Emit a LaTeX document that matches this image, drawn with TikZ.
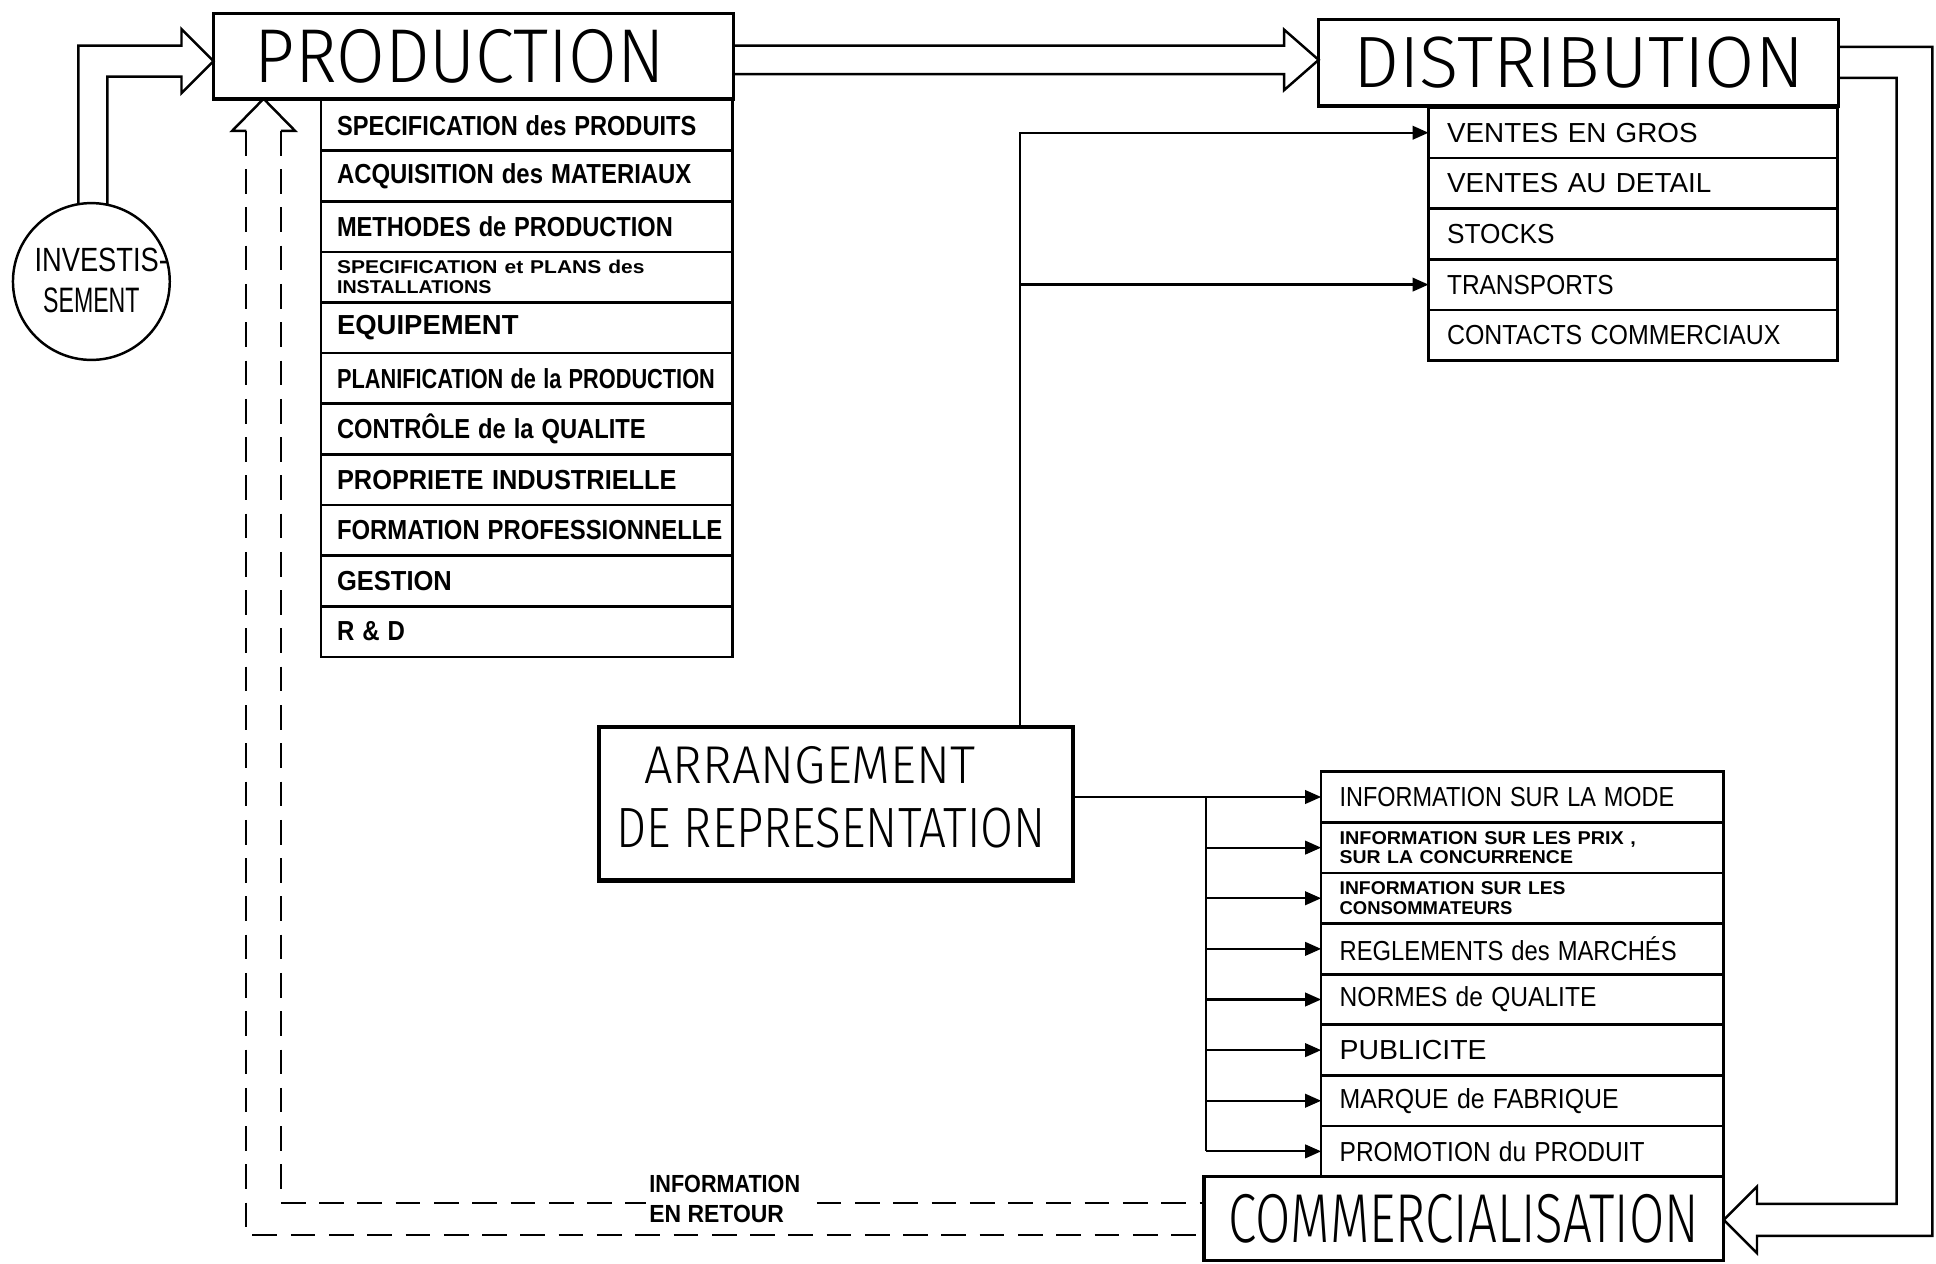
\documentclass[tikz,border=0pt]{standalone}
\usepackage{graphicx}
\usepackage{fontspec}
\setmainfont{Liberation Sans}
\newfontfamily\lightfont{Fira Sans Light}
\usetikzlibrary{arrows.meta,calc}
\newcommand\fw[2]{\resizebox{#1pt}{\height}{#2}}
\begin{document}
\begin{tikzpicture}[x=1pt,y=-1pt,
  every node/.style={inner sep=0pt, outer sep=0pt},
  titlebox/.style={draw, line width=2.8pt, rectangle, anchor=north west, font=\lightfont},
  rowbox/.style={draw, line width=2.2pt, rectangle, anchor=north west, align=left},
  prow/.style={rowbox, inner xsep=13pt, minimum width=333, minimum height=41, text width=307},
  drow/.style={rowbox, inner xsep=15pt, minimum width=331, minimum height=41, text width=301},
  crow/.style={rowbox, inner xsep=15pt, minimum width=326, minimum height=41, text width=296},
  big/.style={font=\fontsize{22.3}{24}\selectfont},
  bigb/.style={font=\bfseries\fontsize{22.3}{24}\selectfont},
  small/.style={font=\bfseries\fontsize{15}{16}\selectfont},
  conn/.style={line width=1.8pt},
  conarr/.style={conn, -{Triangle[length=13pt,width=11pt]}},
  hollow/.style={line width=2pt, line join=miter},
  fb/.style={line width=1.8pt, dash pattern=on 20pt off 11pt},
]
\fill[white] (0,0) rectangle (1568,1023);
\useasboundingbox (0,0) rectangle (1568,1023);

% ---------- main boxes ----------
\node[titlebox, minimum width=421, minimum height=69] (prod) at (173,11)
  {\resizebox{332pt}{43pt}{PRODUCTION}\hspace*{22pt}};
\node[titlebox, minimum width=421, minimum height=70] (dist) at (1068,16)
  {\resizebox{365pt}{41pt}{DISTRIBUTION}};
\node[titlebox, minimum width=421, minimum height=68] (comm) at (975,953)
  {\resizebox{381pt}{39pt}{COMMERCIALISATION}};
\node[draw, line width=3.5pt, rectangle, anchor=north west, minimum width=384, minimum height=124] (arrg) at (485,589) {};
\node[align=left, font=\lightfont\fontsize{10}{52}\selectfont] (arrgtxt) at (673,646)
  {\hspace*{23pt}\resizebox{268pt}{30pt}{ARRANGEMENT}\\ \resizebox{348pt}{32pt}{DE REPRESENTATION}};
\node[draw, circle, line width=2pt, minimum size=127] (inv) at (74,228) {};
\node[align=center, font=\fontsize{10}{33}\selectfont] (invtxt) at (74,227)
  {\hspace*{16pt}\resizebox{108pt}{19pt}{INVESTIS-}\\ \resizebox{78pt}{20pt}{SEMENT}};

% ---------- production list ----------
\node[prow, bigb] (p1) at (260,81) {\fw{291}{SPECIFICATION des PRODUITS}};
\node[prow, bigb] (p2) at (260,122) {\fw{287}{ACQUISITION des MATERIAUX}};
\node[prow, bigb] (p3) at (260,163) {\fw{272}{METHODES de PRODUCTION}};
\node[prow, small] (p4) at (260,204) {\fw{249}{SPECIFICATION et PLANS des}\\ \fw{125}{INSTALLATIONS}};
\node[prow, bigb] (p5) at (260,245) {\fw{147}{EQUIPEMENT}};
\node[prow, bigb] (p6) at (260,286) {\fw{306}{PLANIFICATION de la PRODUCTION}};
\node[prow, bigb] (p7) at (260,327) {\fw{250}{CONTRÔLE de la QUALITE}};
\node[prow, bigb] (p8) at (260,368) {\fw{275}{PROPRIETE INDUSTRIELLE}};
\node[prow, bigb] (p9) at (260,409) {\fw{312}{FORMATION PROFESSIONNELLE}};
\node[prow, bigb] (p10) at (260,450) {\fw{93}{GESTION}};
\node[prow, bigb] (p11) at (260,491) {\fw{55}{R \& D}};

% ---------- distribution list ----------
\node[drow, big] (d1) at (1157,87) {\fw{203}{VENTES EN GROS}};
\node[drow, big] (d2) at (1157,128) {\fw{214}{VENTES AU DETAIL}};
\node[drow, big] (d3) at (1157,169) {\fw{87}{STOCKS}};
\node[drow, big] (d4) at (1157,210) {\fw{135}{TRANSPORTS}};
\node[drow, big] (d5) at (1157,251) {\fw{270}{CONTACTS COMMERCIAUX}};

% ---------- commercialisation list ----------
\node[crow, big] (c1) at (1070,625) {\fw{271}{INFORMATION SUR LA MODE}};
\node[crow, small] (c2) at (1070,666) {\fw{240}{INFORMATION SUR LES PRIX ,}\\ \fw{189}{SUR LA CONCURRENCE}};
\node[crow, small] (c3) at (1070,707) {\fw{183}{INFORMATION SUR LES}\\ \fw{140}{CONSOMMATEURS}};
\node[crow, big] (c4) at (1070,748) {\fw{273}{REGLEMENTS des MARCHÉS}};
\node[crow, big] (c5) at (1070,789) {\fw{208}{NORMES de QUALITE}};
\node[crow, big] (c6) at (1070,830) {\fw{119}{PUBLICITE}};
\node[crow, big] (c7) at (1070,871) {\fw{226}{MARQUE de FABRIQUE}};
\node[crow, big] (c8) at (1070,912) {\fw{247}{PROMOTION du PRODUIT}};

% ---------- hollow arrow: investissement -> production ----------
\coordinate (a1tip) at ($(prod.west)+(0,4)$);
\draw[hollow] ($(inv.center)+(-10.5,-62.6)$) |- ($(a1tip)+(-26,-12.5)$)
  -- ($(a1tip)+(-26,-26)$) -- (a1tip) -- ($(a1tip)+(-26,26)$)
  -- ($(a1tip)+(-26,12.5)$) -| ($(inv.center)+(13,-62.2)$);

% ---------- hollow arrow: production -> distribution ----------
\coordinate (a2tip) at ($(dist.west)+(0,-2.5)$);
\draw[hollow] ($(prod.east)+(0,-8.5)$) -- ($(a2tip)+(-28,-11.5)$)
  -- ($(a2tip)+(-28,-24.5)$) -- (a2tip) -- ($(a2tip)+(-28,24.5)$)
  -- ($(a2tip)+(-28,11.5)$) -- ($(prod.east)+(0,14.5)$);

% ---------- hollow arrow: distribution -> commercialisation ----------
\coordinate (a3tip) at ($(comm.east)+(0,1)$);
\draw[hollow] ($(dist.east)+(0,-13)$) -| ($(a3tip)+(169,13)$)
  -- ($(a3tip)+(27,13)$) -- ($(a3tip)+(27,27)$) -- (a3tip)
  -- ($(a3tip)+(27,-27)$) -- ($(a3tip)+(27,-13)$)
  -| ($(dist.east)+(47,12)$) -- ($(dist.east)+(0,12)$);

% ---------- feedback: commercialisation -> production ----------
\coordinate (a4tip) at ($(prod.south west)+(40.5,0)$);
\draw[fb] ($(a4tip)+(-14,26)$) |- ($(comm.west)+(0,13)$);
\draw[fb] ($(a4tip)+(14,26)$) |- ($(comm.west)+(0,-13)$);
\draw[hollow] ($(a4tip)+(-14,26)$) -- ($(a4tip)+(-25.5,26)$) -- (a4tip)
  -- ($(a4tip)+(25.5,26)$) -- ($(a4tip)+(14,26)$);
\node[fill=white, align=left, inner xsep=3pt, font=\bfseries\fontsize{10}{24}\selectfont] (fbl) at (587,971)
  {\resizebox{122pt}{14pt}{INFORMATION}\\ \resizebox{109pt}{14pt}{EN RETOUR}};

% ---------- arrangement -> distribution ----------
\coordinate (bus1) at (826,0);
\draw[conarr] (arrg.north -| bus1) |- (d1.west);
\draw[conarr] (bus1 |- d4.west) -- (d4.west);

% ---------- arrangement -> commercialisation ----------
\coordinate (bus2) at (977,0);
\draw[conarr] (arrg.east |- c1.west) -- (c1.west);
\draw[conn] (bus2 |- c1.west) -- (bus2 |- c8.west);
\foreach \i in {2,...,8} \draw[conarr] (bus2 |- c\i.west) -- (c\i.west);
\end{tikzpicture}
\end{document}
